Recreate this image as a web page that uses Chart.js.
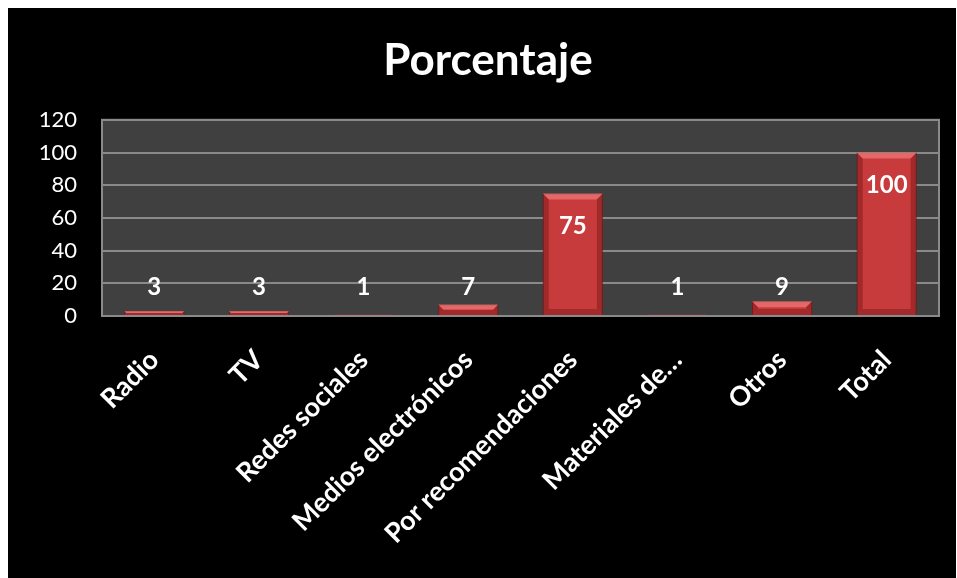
<!DOCTYPE html>
<html>
<head>
<meta charset="utf-8">
<script src="https://cdn.jsdelivr.net/npm/chart.js@4/dist/chart.umd.min.js"></script>
<style>
  html, body { margin: 0; padding: 0; background: #ffffff; overflow: hidden; }
  #marco { position: absolute; left: 8px; top: 8px; width: 948px; height: 570px; background: #000000; overflow: hidden; }
</style>
</head>
<body>
<div id="marco"><canvas id="porcentajeChart" width="960" height="570"></canvas></div>
<script>
// Datos del gráfico
const categorias = ['Radio', 'TV', 'Redes sociales', 'Medios electrónicos', 'Por recomendaciones', 'Materiales de…', 'Otros', 'Total'];
const porcentajes = [3, 3, 1, 7, 75, 1, 9, 100];
const ticksY = [0, 20, 40, 60, 80, 100, 120];

const FUENTE = 'Lato, "Open Sans", sans-serif';

// Fondo gris del área de trazado con su borde
const fondoArea = {
    id: 'fondoArea',
    beforeDraw(chart) {
        const { ctx, chartArea: a } = chart;
        ctx.save();
        ctx.fillStyle = '#404040';
        ctx.fillRect(a.left, a.top, a.right - a.left, a.bottom - a.top);
        ctx.restore();
    },
    afterDraw(chart) {
        const { ctx, chartArea: a } = chart;
        ctx.save();
        ctx.strokeStyle = '#8a8a8a';
        ctx.lineWidth = 2;
        ctx.strokeRect(a.left, a.top, a.right - a.left, a.bottom - a.top);
        ctx.restore();
    }
};

// Biselado de las barras (aspecto en relieve)
const biselBarras = {
    id: 'biselBarras',
    afterDatasetsDraw(chart) {
        const { ctx } = chart;
        chart.getDatasetMeta(0).data.forEach(bar => {
            const x0 = bar.x - bar.width / 2, x1 = bar.x + bar.width / 2;
            const y0 = bar.y, y1 = bar.base;
            const h = y1 - y0;
            if (h < 1) return;
            const b = Math.min(6, h / 2);
            ctx.save();
            // borde superior claro
            ctx.fillStyle = 'rgba(255,140,140,0.55)';
            ctx.beginPath();
            ctx.moveTo(x0, y0); ctx.lineTo(x1, y0); ctx.lineTo(x1 - b, y0 + b); ctx.lineTo(x0 + b, y0 + b);
            ctx.closePath(); ctx.fill();
            // bordes laterales oscuros
            ctx.fillStyle = 'rgba(90,10,10,0.35)';
            ctx.beginPath();
            ctx.moveTo(x0, y0); ctx.lineTo(x0 + b, y0 + b); ctx.lineTo(x0 + b, y1 - b); ctx.lineTo(x0, y1);
            ctx.closePath(); ctx.fill();
            ctx.beginPath();
            ctx.moveTo(x1, y0); ctx.lineTo(x1 - b, y0 + b); ctx.lineTo(x1 - b, y1 - b); ctx.lineTo(x1, y1);
            ctx.closePath(); ctx.fill();
            // borde inferior
            ctx.fillStyle = 'rgba(120,20,20,0.45)';
            ctx.beginPath();
            ctx.moveTo(x0, y1); ctx.lineTo(x1, y1); ctx.lineTo(x1 - b, y1 - b); ctx.lineTo(x0 + b, y1 - b);
            ctx.closePath(); ctx.fill();
            ctx.restore();
        });
    }
};

// Etiquetas de valor sobre/dentro de cada barra
const etiquetasValor = {
    id: 'etiquetasValor',
    afterDatasetsDraw(chart) {
        const { ctx } = chart;
        const escalaY = chart.scales.y;
        const base = escalaY.getPixelForValue(0);
        ctx.save();
        ctx.fillStyle = '#ffffff';
        ctx.font = 'bold 24px ' + FUENTE;
        ctx.textAlign = 'center';
        ctx.textBaseline = 'middle';
        chart.getDatasetMeta(0).data.forEach((bar, i) => {
            const y = Math.min(bar.y + 33, base - 29);
            ctx.fillText(String(porcentajes[i]), bar.x, y);
        });
        ctx.restore();
    }
};

const ctx = document.getElementById('porcentajeChart').getContext('2d');
new Chart(ctx, {
    type: 'bar',
    data: {
        labels: categorias,
        datasets: [{
            label: 'Porcentaje',
            data: porcentajes,
            backgroundColor: '#c83b3c',
            borderColor: '#8e2526',
            borderWidth: 1,
            barPercentage: 0.574,
            categoryPercentage: 1
        }]
    },
    options: {
        responsive: false,
        animation: false,
        layout: { padding: { left: 29, right: 29, top: 0, bottom: 0 } },
        plugins: {
            legend: { display: false },
            tooltip: { enabled: false },
            title: {
                display: true,
                text: 'Porcentaje',
                color: '#ffffff',
                font: { family: FUENTE, size: 44, weight: 'bold' },
                padding: { top: 26, bottom: 33 }
            }
        },
        scales: {
            x: {
                grid: { display: false, drawTicks: false },
                border: { color: '#8a8a8a', width: 2 },
                ticks: {
                    color: '#ffffff',
                    font: { family: FUENTE, size: 27, weight: 'bold' },
                    minRotation: 45,
                    maxRotation: 45,
                    padding: 28
                },
                afterFit(scale) { scale.height = 262; }
            },
            y: {
                min: 0,
                max: 120,
                afterBuildTicks(scale) { scale.ticks = ticksY.map(v => ({ value: v })); },
                grid: { color: '#8a8a8a', lineWidth: 2, drawTicks: false },
                border: { color: '#8a8a8a', width: 2 },
                ticks: {
                    color: '#ffffff',
                    font: { family: FUENTE, size: 22 },
                    padding: 25
                },
                afterFit(scale) { scale.width = 65; }
            }
        }
    },
    plugins: [fondoArea, biselBarras, etiquetasValor]
});
</script>
</body>
</html>
